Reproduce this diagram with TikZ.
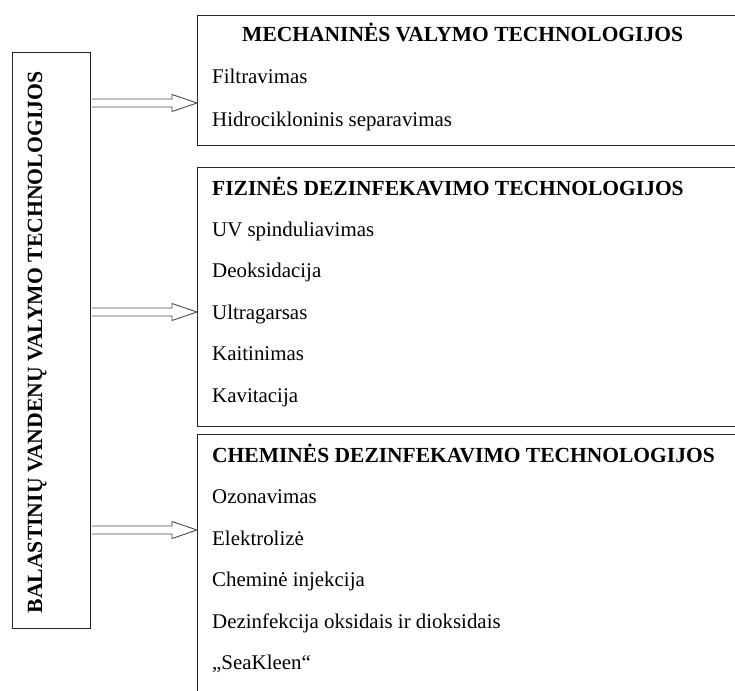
\documentclass[tikz,border=0pt]{standalone}
\usepackage{fontspec}
\setmainfont{Liberation Serif}
\usetikzlibrary{calc}
\begin{document}
\begin{tikzpicture}[x=1pt,y=-1pt,
  boxst/.style={draw=black!85,line width=1.3pt,inner sep=0pt,anchor=north west},
  item/.style={anchor=base west,inner sep=0pt,font=\fontsize{20.9}{24}\selectfont},
  ttl/.style={anchor=base west,inner sep=0pt,font=\fontsize{21.5}{24}\selectfont\bfseries},
  arr/.style={draw=black!70,line width=0.9pt,line join=miter}]
\clip (0,0) rectangle (735,690);
\fill[white] (0,0) rectangle (735,690);
% boxes
\node[boxst,minimum width=78pt,minimum height=576pt] (L) at (12,52) {};
\node[boxst,minimum width=548pt,minimum height=130pt] (M) at (197,15) {};
\node[boxst,minimum width=548pt,minimum height=259pt] (F) at (197,167) {};
\node[boxst,minimum width=548pt,minimum height=266pt] (C) at (197,434) {};
% vertical title
\node[anchor=base,inner sep=0pt,rotate=90,font=\fontsize{21.7}{24}\selectfont\bfseries] (Lt) at (42,342.5) {BALASTINIŲ VANDENŲ VALYMO TECHNOLOGIJOS};
% box 1
\node[ttl] (Mt) at (242,42) {MECHANINĖS VALYMO TECHNOLOGIJOS};
\node[item] (M1) at (212,84) {Filtravimas};
\node[item] (M2) at (212,126) {Hidrocikloninis separavimas};
% box 2
\node[ttl] (Ft) at (212,195) {FIZINĖS DEZINFEKAVIMO TECHNOLOGIJOS};
\node[item] (F1) at (212,236) {UV spinduliavimas};
\node[item] (F2) at (212,277.5) {Deoksidacija};
\node[item] (F3) at (212,319) {Ultragarsas};
\node[item] (F4) at (212,360.5) {Kaitinimas};
\node[item] (F5) at (212,402) {Kavitacija};
% box 3
\node[ttl] (Ct) at (212,462) {CHEMINĖS DEZINFEKAVIMO TECHNOLOGIJOS};
\node[item] (C1) at (212,503.5) {Ozonavimas};
\node[item] (C2) at (212,545) {Elektrolizė};
\node[item] (C3) at (212,586.5) {Cheminė injekcija};
\node[item] (C4) at (212,628) {Dezinfekcija oksidais ir dioksidais};
\node[item] (C5) at (212,669.5) {„SeaKleen“};
% arrows
\coordinate (y1) at (0,103);
\coordinate (y2) at (0,312);
\coordinate (y3) at (0,530);
\foreach \tgt/\yy in {M/y1,F/y2,C/y3}{
  \coordinate (S) at (L.east |- \yy);
  \coordinate (E) at (\tgt.west |- \yy);
  \draw[arr] ($(S)+(0.7,-4)$) -- ($(E)+(-25,-4)$) -- ($(E)+(-25,-8.5)$) -- (E) -- ($(E)+(-25,8.5)$) -- ($(E)+(-25,4)$) -- ($(S)+(0.7,4)$);
}
\end{tikzpicture}
\end{document}
